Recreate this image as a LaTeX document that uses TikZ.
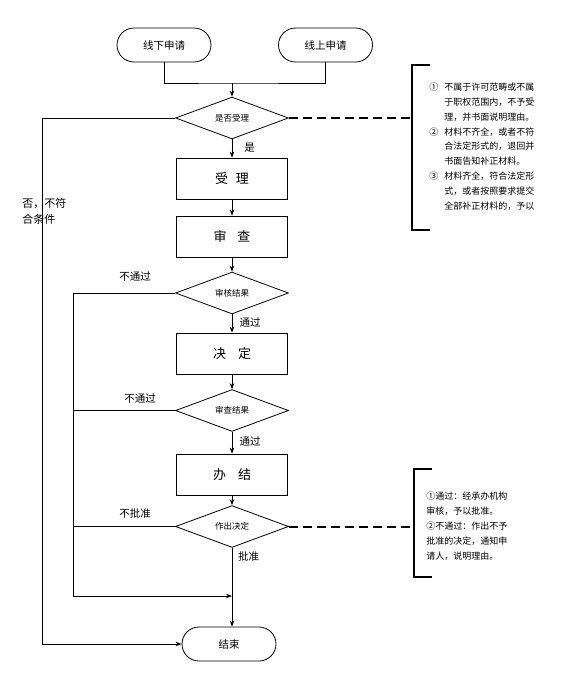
\documentclass[tikz,border=0pt]{standalone}
\usepackage{fontspec}
\setmainfont{Noto Sans CJK SC}
\usetikzlibrary{shapes.geometric,arrows.meta}
\begin{document}
\begin{tikzpicture}[x=1pt,y=-1pt,line width=0.8pt,
term/.style={draw,rounded corners=17pt,minimum width=94pt,minimum height=34pt,font=\fontsize{10.5}{12}\selectfont},
box/.style={draw,minimum width=111pt,minimum height=41pt,font=\fontsize{13}{15}\selectfont},
judge/.style={draw,diamond,minimum width=113pt,minimum height=37pt,inner sep=0pt,font=\fontsize{8.5}{10}\selectfont},
lbl/.style={inner sep=0pt,font=\fontsize{10.5}{12}\selectfont},
note/.style={inner sep=0pt,anchor=north west},
arr/.style={-{Stealth[length=6pt,width=4.5pt]}},
dashlink/.style={line width=2pt,dash pattern=on 9pt off 5pt},
bracket/.style={line width=2pt}]
\useasboundingbox (0,0) rectangle (560,683);
\node[term] (offline) at (164,45) {线下申请};
\node[term] (online) at (325.5,45) {线上申请};
\coordinate (join) at (232,83);
\node[judge] (accept) at (232,118) {是否受理};
\node[box] (shouli) at (232,178.5) {受\hspace{8pt}理};
\node[box] (shencha) at (232,236.5) {审\hspace{11pt}查};
\node[judge] (check) at (232,293) {审核结果};
\node[box] (jueding) at (232,353.5) {决\hspace{12pt}定};
\node[judge] (review) at (232,410.5) {审查结果};
\node[box] (banjie) at (232,474.5) {办\hspace{12pt}结};
\node[judge] (decide) at (232,526.5) {作出决定};
\node[term] (finish) at (229,644) {结束};
\draw (offline.south) |- (join) -| (online.south);
\draw[arr] (join) -- (accept.north);
\draw[arr] (accept.south) -- (shouli.north);
\draw[arr] (shouli.south) -- (shencha.north);
\draw[arr] (shencha.south) -- (check.north);
\draw[arr] (check.south) -- (jueding.north);
\draw[arr] (jueding.south) -- (review.north);
\draw[arr] (review.south) -- (banjie.north);
\draw[arr] (banjie.south) -- (decide.north);
\coordinate (merge) at (232,596);
\draw[arr] (decide.south) -- (decide.south |- finish.north);
\coordinate (leftA) at (42,118);
\draw[arr] (accept.west) -- (leftA) |- (finish.west);
\coordinate (leftB) at (73,596);
\draw[arr] (check.west) -| (leftB) -- (merge);
\draw (review.west) -- (review.west -| leftB);
\draw (decide.west) -- (decide.west -| leftB);
\node[lbl] (yes) at (249.5,148) {是};
\node[lbl,align=left,anchor=west,font=\fontsize{11}{16}\selectfont] (no) at (22,211) {否，不符\\合条件};
\node[lbl] (fail1) at (135,277) {不通过};
\node[lbl] (pass1) at (250,322) {通过};
\node[lbl] (fail2) at (140,399) {不通过};
\node[lbl] (pass2) at (250,441) {通过};
\node[lbl] (reject) at (135,514) {不批准};
\node[lbl] (approve) at (248.5,557) {批准};
\coordinate (note1) at (410,118);
\draw[dashlink] (accept.east) -- (note1);
\draw[bracket] (430,65) -- (412,65) -- (412,230) -- (430,230);
\node[note,font=\fontsize{9}{14.8}\selectfont] (rules) at (429,80) {%
\begin{tabular}{@{}l@{\hspace{6pt}}l@{}}
① & 不属于许可范畴或不属\\
 & 于职权范围内，不予受\\
 & 理，并书面说明理由。\\
② & 材料不齐全，或者不符\\
 & 合法定形式的，退回并\\
 & 书面告知补正材料。\\
③ & 材料齐全，符合法定形\\
 & 式，或者按照要求提交\\
 & 全部补正材料的，予以
\end{tabular}};
\coordinate (note2) at (412,526.5);
\draw[dashlink] (decide.east) -- (note2);
\draw[bracket] (432,469) -- (414,469) -- (414,577) -- (432,577);
\node[note,font=\fontsize{9}{15}\selectfont] (result) at (426,489) {%
\begin{tabular}{@{}l@{}}
①通过：经承办机构\\
审核，予以批准。\\
②不通过：作出不予\\
批准的决定，通知申\\
请人，说明理由。
\end{tabular}};
\end{tikzpicture}
\end{document}
